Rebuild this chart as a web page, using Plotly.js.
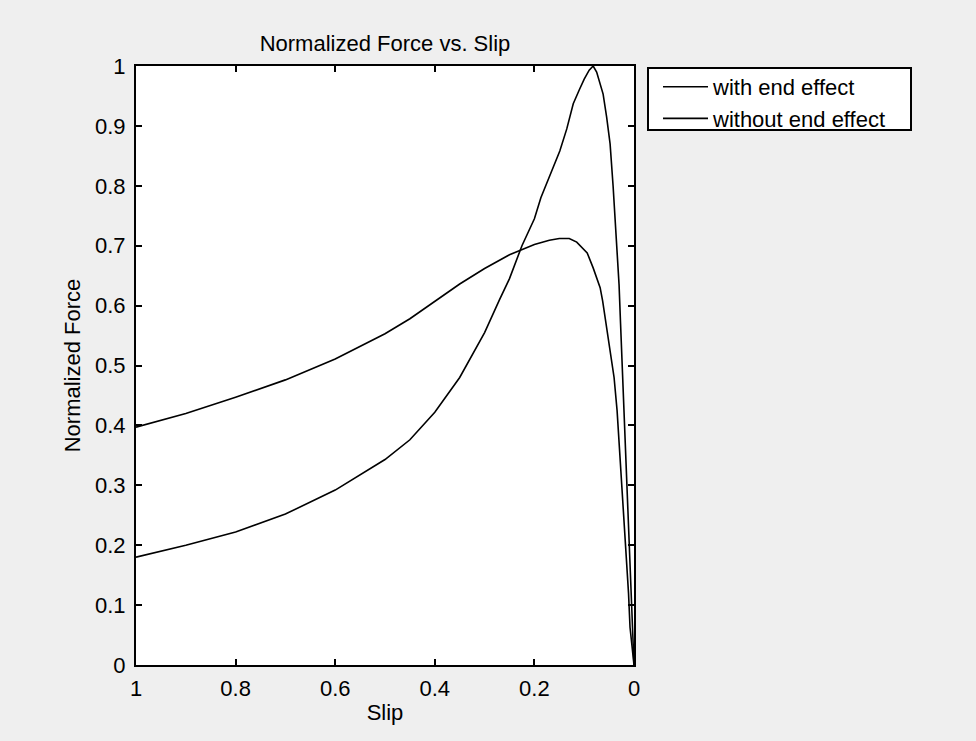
<!DOCTYPE html>
<html>
<head>
<meta charset="utf-8">
<script src="https://cdn.plot.ly/plotly-3.0.1.min.js"></script>
<style>
  html, body { margin: 0; padding: 0; background: #efefef; }
  #chart { width: 976px; height: 741px; }
</style>
</head>
<body>
<div id="chart"></div>
<script>
// Curve with end effect (lower peak)
const slipWith  = [1.0, 0.9, 0.8, 0.7, 0.6, 0.5, 0.45, 0.4, 0.35, 0.3, 0.25, 0.2, 0.17, 0.15, 0.13, 0.115, 0.105, 0.094, 0.082, 0.075, 0.068, 0.063, 0.058, 0.053, 0.048, 0.044, 0.04, 0.034, 0.029, 0.024, 0.019, 0.014, 0.011, 0.008, 0.004, 0.0];
const forceWith = [0.397, 0.42, 0.447, 0.476, 0.511, 0.553, 0.578, 0.607, 0.636, 0.662, 0.685, 0.702, 0.709, 0.712, 0.712, 0.706, 0.698, 0.688, 0.663, 0.648, 0.63, 0.608, 0.58, 0.55, 0.52, 0.505, 0.48, 0.425, 0.36, 0.287, 0.23, 0.175, 0.12, 0.063, 0.03, 0.0];

// Curve without end effect (peak = 1)
const slipWithout  = [1.0, 0.9, 0.8, 0.7, 0.6, 0.5, 0.45, 0.4, 0.35, 0.3, 0.27, 0.25, 0.225, 0.2, 0.187, 0.17, 0.149, 0.135, 0.122, 0.11, 0.1, 0.09, 0.082, 0.075, 0.068, 0.062, 0.055, 0.048, 0.042, 0.038, 0.034, 0.03, 0.027, 0.024, 0.021, 0.018, 0.015, 0.012, 0.009, 0.006, 0.003, 0.0];
const forceWithout = [0.18, 0.2, 0.222, 0.252, 0.292, 0.343, 0.376, 0.422, 0.48, 0.555, 0.61, 0.645, 0.70, 0.745, 0.78, 0.815, 0.858, 0.895, 0.937, 0.96, 0.978, 0.993, 1.0, 0.99, 0.972, 0.953, 0.915, 0.87, 0.80, 0.75, 0.703, 0.635, 0.57, 0.508, 0.45, 0.397, 0.33, 0.258, 0.2, 0.147, 0.08, 0.0];

const xTicks = [1, 0.8, 0.6, 0.4, 0.2, 0];
const xTickText = ['1', '0.8', '0.6', '0.4', '0.2', '0'];
const yTicks = [0, 0.1, 0.2, 0.3, 0.4, 0.5, 0.6, 0.7, 0.8, 0.9, 1];
const yTickText = ['0', '0.1', '0.2', '0.3', '0.4', '0.5', '0.6', '0.7', '0.8', '0.9', '1'];

const FONT = 'Liberation Sans, Arial, Helvetica, sans-serif';

// plot area in pixels (for converting the legend frame to paper coordinates)
const PL = 136, PR = 634, PT = 66, PB = 665;
const px2x = p => (p - PL) / (PR - PL);
const px2y = p => (PB - p) / (PB - PT);

const traces = [
  { x: slipWith, y: forceWith, type: 'scatter', mode: 'lines', name: 'with end effect',
    line: { color: '#000', width: 1.6 } },
  { x: slipWithout, y: forceWithout, type: 'scatter', mode: 'lines', name: 'without end effect',
    line: { color: '#000', width: 1.6 } }
];

const layout = {
  width: 976, height: 741,
  paper_bgcolor: '#efefef',
  plot_bgcolor: '#ffffff',
  margin: { l: PL, r: 976 - PR, t: PT, b: 741 - PB },
  font: { family: FONT, size: 22, color: '#000' },
  title: { text: 'Normalized Force vs. Slip', x: 0.5, xref: 'paper', y: 1 - 43/741, yanchor: 'middle',
           font: { family: FONT, size: 22, color: '#000' } },
  xaxis: {
    range: [1, 0], autorange: false,
    tickvals: xTicks, ticktext: xTickText,
    ticks: 'inside', ticklen: 6, tickwidth: 2, tickcolor: '#000',
    showline: true, linecolor: '#000', linewidth: 2, mirror: 'ticks',
    showgrid: false, zeroline: false,
    ticklabelstandoff: 3,
    title: { text: 'Slip', standoff: 4, font: { family: FONT, size: 22 } }
  },
  yaxis: {
    range: [0, 1], autorange: false,
    tickvals: yTicks, ticktext: yTickText,
    ticks: 'inside', ticklen: 6, tickwidth: 2, tickcolor: '#000',
    showline: true, linecolor: '#000', linewidth: 2, mirror: 'ticks',
    showgrid: false, zeroline: false,
    ticklabelstandoff: 4,
    title: { text: 'Normalized Force', standoff: 8, font: { family: FONT, size: 22 } }
  },
  shapes: [
    { type: 'rect', xref: 'paper', yref: 'paper', layer: 'above',
      x0: px2x(648), x1: px2x(911), y0: px2y(130), y1: px2y(68),
      line: { color: '#000', width: 2 }, fillcolor: '#ffffff' }
  ],
  legend: {
    x: px2x(658), y: px2y(66), xanchor: 'left', yanchor: 'top',
    bgcolor: 'rgba(0,0,0,0)', borderwidth: 0,
    itemwidth: 45,
    font: { family: FONT, size: 22, color: '#000' },
    tracegroupgap: 0
  },
  showlegend: true
};

Plotly.newPlot('chart', traces, layout, { displayModeBar: false, staticPlot: true });
</script>
</body>
</html>
